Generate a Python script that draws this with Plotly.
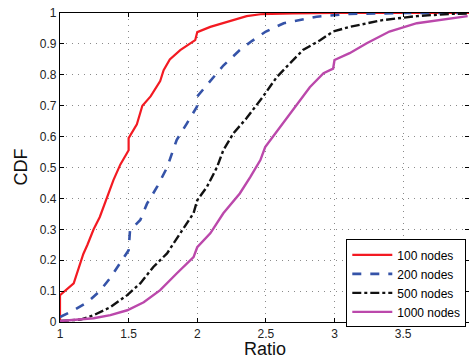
import plotly.graph_objects as go

# 100 nodes
x100 = [1.0, 1.0, 1.10, 1.15, 1.17, 1.20, 1.245, 1.29, 1.33, 1.39, 1.44, 1.50, 1.50, 1.56, 1.60, 1.66, 1.73, 1.755, 1.80, 1.876, 1.985, 2.0, 2.095, 2.22, 2.36, 2.46, 2.7, 3.0, 4.0]
y100 = [0.0, 0.087, 0.125, 0.19, 0.22, 0.25, 0.30, 0.34, 0.39, 0.46, 0.51, 0.556, 0.595, 0.64, 0.70, 0.73, 0.78, 0.815, 0.85, 0.88, 0.912, 0.938, 0.955, 0.972, 0.99, 0.996, 0.999, 1.0, 1.0]

# 200 nodes
x200 = [1.0, 1.10, 1.20, 1.29, 1.37, 1.44, 1.50, 1.51, 1.585, 1.634, 1.707, 1.78, 1.85, 1.925, 1.998, 2.0, 2.095, 2.19, 2.31, 2.40, 2.50, 2.63, 2.87, 3.11, 3.5, 4.0]
y200 = [0.016, 0.038, 0.064, 0.10, 0.145, 0.19, 0.232, 0.297, 0.33, 0.383, 0.437, 0.50, 0.589, 0.643, 0.697, 0.73, 0.78, 0.83, 0.88, 0.91, 0.94, 0.967, 0.988, 0.997, 1.0, 1.0]

# 500 nodes
x500 = [1.0, 1.15, 1.245, 1.367, 1.49, 1.585, 1.68, 1.78, 1.876, 1.973, 2.0, 2.07, 2.143, 2.19, 2.264, 2.36, 2.48, 2.58, 2.677, 2.77, 2.895, 2.99, 3.11, 3.35, 3.6, 3.84, 4.0]
y500 = [0.003, 0.008, 0.022, 0.048, 0.087, 0.125, 0.178, 0.222, 0.287, 0.352, 0.394, 0.437, 0.50, 0.556, 0.611, 0.66, 0.73, 0.793, 0.838, 0.88, 0.912, 0.94, 0.955, 0.977, 0.99, 0.997, 0.999]

# 1000 nodes
x1000 = [1.0, 1.245, 1.367, 1.49, 1.61, 1.73, 1.85, 1.973, 2.0, 2.095, 2.19, 2.31, 2.386, 2.46, 2.495, 2.604, 2.677, 2.75, 2.82, 2.92, 2.99, 3.0, 3.11, 3.235, 3.40, 3.60, 3.84, 3.97]
y1000 = [0.003, 0.012, 0.022, 0.038, 0.064, 0.103, 0.157, 0.21, 0.242, 0.287, 0.352, 0.416, 0.469, 0.524, 0.566, 0.631, 0.675, 0.718, 0.76, 0.805, 0.82, 0.848, 0.87, 0.902, 0.94, 0.967, 0.983, 0.99]

series = [
    ("100 nodes", x100, y100, "#f31a22", "solid", 2.2),
    ("200 nodes", x200, y200, "#3553a8", "dash", 2.6),
    ("500 nodes", x500, y500, "#111111", "dashdot", 2.4),
    ("1000 nodes", x1000, y1000, "#bb48ab", "solid", 2.4),
]

xticks = [1, 1.5, 2, 2.5, 3, 3.5, 4]
xticklabels = ["1", "1.5", "2", "2.5", "3", "3.5", "4"]
yticks = [0, 0.1, 0.2, 0.3, 0.4, 0.5, 0.6, 0.7, 0.8, 0.9, 1]
yticklabels = ["0", "0.1", "0.2", "0.3", "0.4", "0.5", "0.6", "0.7", "0.8", "0.9", "1"]

fig = go.Figure()
for name, xs, ys, color, dash, w in series:
    fig.add_trace(go.Scatter(x=xs, y=ys, mode="lines", name=name,
                             line=dict(color=color, dash=dash, width=w)))

axis_common = dict(
    showline=True, linecolor="black", linewidth=1.2, mirror="ticks",
    ticks="inside", ticklen=4, tickcolor="black",
    showgrid=True, gridcolor="#8a8a8a", griddash="1px,5px", gridwidth=1,
    zeroline=False, tickfont=dict(family="Liberation Sans, Arial", size=12, color="#222"),
)

fig.update_layout(
    width=469, height=358,
    margin=dict(l=60, r=0, t=13, b=36),
    paper_bgcolor="white", plot_bgcolor="white",
    font=dict(family="Liberation Sans, Arial", color="black"),
    xaxis=dict(range=[1, 3.98], tickvals=xticks, ticktext=xticklabels, **axis_common),
    yaxis=dict(range=[0, 1], tickvals=yticks, ticktext=yticklabels, **axis_common),
    legend=dict(x=0.70, y=0.125, xanchor="left", yanchor="middle",
                bgcolor="white", bordercolor="black", borderwidth=1,
                font=dict(size=12), tracegroupgap=0, itemwidth=40),
    showlegend=True,
    annotations=[
        dict(text="Ratio", xref="paper", yref="paper", x=0.5, y=-0.087,
             xanchor="center", yanchor="middle", showarrow=False,
             font=dict(size=18, color="#111")),
        dict(text="CDF", xref="paper", yref="paper", x=(20 - 60) / 409, y=0.5,
             xanchor="center", yanchor="middle", showarrow=False, textangle=-90,
             font=dict(size=18, color="#111")),
    ],
)

fig.write_html("out.html", config={"displayModeBar": False},
               post_script="document.body.style.margin='0';document.body.style.padding='0';")
